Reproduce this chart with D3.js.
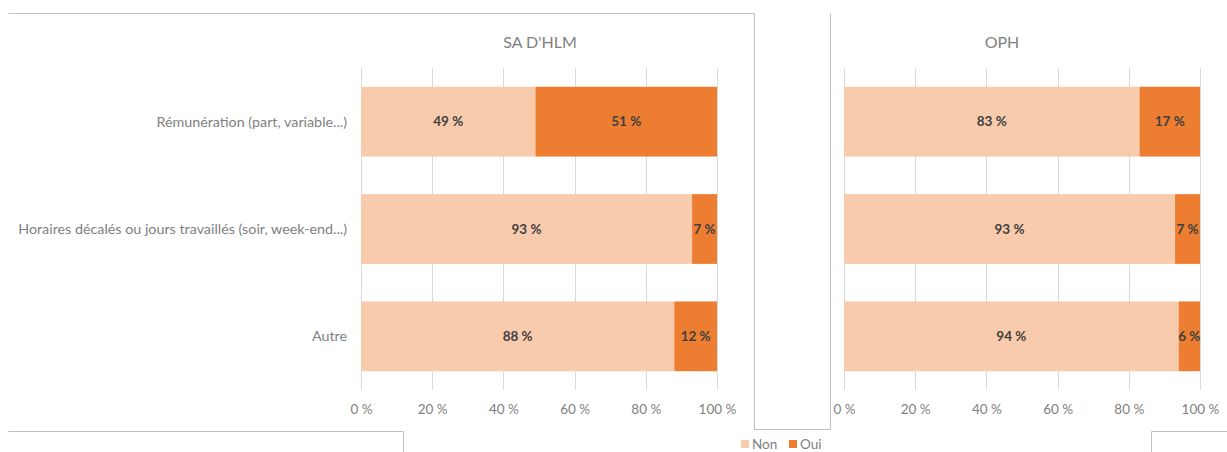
<!DOCTYPE html>
<html>
<head>
<meta charset="utf-8">
<script src="https://cdn.jsdelivr.net/npm/d3@7"></script>
<style>
    body { margin: 0; background: #fff; }
    svg { display: block; font-family: Lato, "Open Sans", sans-serif; }
</style>
</head>
<body>
<div class="chart"></div>
<script>
const width = 1227;
const height = 452;

const categories = [
    "Rémunération (part, variable...)",
    "Horaires décalés ou jours travaillés (soir, week-end...)",
    "Autre",
];
const seriesNames = ["Non", "Oui"];
const saNon = [49, 93, 88];
const saOui = [51, 7, 12];
const ophNon = [83, 93, 94];
const ophOui = [17, 7, 6];
const ticks = [0, 20, 40, 60, 80, 100];

const colors = ["#F8CBAD", "#ED7D31"];
const gray = "#BFBFBF";
const textGray = "#7F7F7F";

const svg = d3
    .select(".chart")
    .append("svg")
    .attr("width", width)
    .attr("height", height);

// chart frames (overlapping Excel chart boxes)
const frame = svg.append("g").attr("fill", "none").attr("stroke", gray).attr("stroke-width", 1);
frame.append("path").attr("d", "M8.5,13.5H754.5V429.5H830.5V13.5");
frame.append("path").attr("d", "M8.5,431.5H403.5V452");
frame.append("path").attr("d", "M1227,431.5H1151.5V452");

function panel(title, non, oui, x0, x1, titleX, showLabels) {
    const g = svg.append("g");
    const x = d3.scaleLinear().domain([0, 100]).range([x0, x1]);
    const y = d3.scaleBand().domain(categories).range([68, 390]).paddingInner(0.35).paddingOuter(0.175);

    // gridlines
    g.append("g")
        .selectAll("line")
        .data(ticks)
        .join("line")
        .attr("x1", (d) => Math.round(x(d)) + 0.5)
        .attr("x2", (d) => Math.round(x(d)) + 0.5)
        .attr("y1", 68)
        .attr("y2", 390)
        .attr("stroke", "#D9D9D9");

    const rows = categories.map((c, i) => ({ cat: c, vals: [non[i], oui[i]] }));
    rows.forEach((r) => {
        let start = 0;
        r.vals.forEach((v, j) => {
            g.append("rect")
                .attr("x", x(start))
                .attr("y", y(r.cat))
                .attr("width", x(start + v) - x(start))
                .attr("height", y.bandwidth())
                .attr("fill", colors[j]);
            g.append("text")
                .attr("x", x(start + v / 2))
                .attr("y", y(r.cat) + y.bandwidth() / 2)
                .attr("dy", "0.35em")
                .attr("text-anchor", "middle")
                .attr("font-size", 13.5)
                .attr("font-weight", "bold")
                .attr("fill", "#404040")
                .text(v + " %");
            start += v;
        });
    });

    // x axis
    const axis = g.append("g")
        .attr("transform", "translate(0,401)")
        .call(d3.axisBottom(x).tickValues(ticks).tickSize(0).tickFormat((d) => d + " %"));
    axis.select(".domain").remove();
    axis.selectAll("text").attr("fill", textGray).attr("font-size", 13.5).attr("font-family", "Lato, sans-serif");

    if (showLabels) {
        g.append("g")
            .selectAll("text")
            .data(categories)
            .join("text")
            .attr("x", 347)
            .attr("y", (d) => y(d) + y.bandwidth() / 2)
            .attr("dy", "0.35em")
            .attr("text-anchor", "end")
            .attr("font-size", 14.3)
            .attr("fill", textGray)
            .text((d) => d);
    }

    g.append("text")
        .attr("x", titleX)
        .attr("y", 48)
        .attr("text-anchor", "middle")
        .attr("font-size", 16)
        .attr("fill", textGray)
        .text(title);
}

panel("SA D'HLM", saNon, saOui, 361, 717, 540, true);
panel("OPH", ophNon, ophOui, 844, 1200, 1002, false);

// legend
const legend = svg.append("g").attr("transform", "translate(741,444)");
const items = legend.selectAll("g").data(seriesNames).join("g")
    .attr("transform", (d, i) => `translate(${i * 48},0)`);
items.append("rect").attr("x", 0).attr("y", -4).attr("width", 8).attr("height", 8)
    .attr("fill", (d, i) => colors[i]);
items.append("text").attr("x", 11).attr("dy", "0.35em").attr("font-size", 13.5)
    .attr("fill", textGray).text((d) => d);
</script>
</body>
</html>
